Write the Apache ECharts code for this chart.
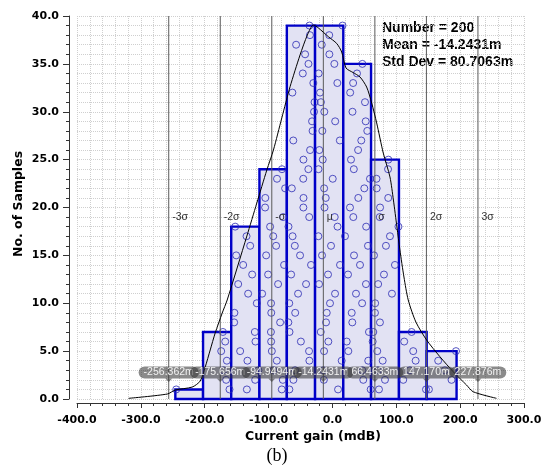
<!DOCTYPE html>
<html><head><meta charset="utf-8">
<script src="https://cdn.jsdelivr.net/npm/echarts@6/dist/echarts.min.js"></script>
<style>html,body{margin:0;padding:0;background:#fff}#c{width:551px;height:466px}</style>
</head><body><div id="c"></div>
<script>
// ---- data ----
const binEdges = [-246.0, -202.6, -158.5, -114.3, -71.4, -27.2, 17.0, 60.5, 104.2, 147.6, 194.4];
const binCounts = [1, 7, 18, 24, 39, 39, 35, 25, 7, 5];
// sample values of each bin, in the order they are stacked (level 1..n)
const bin1Samples = [-244.6];
const bin2Samples = [-161.2, -166.4, -170.6, -165.3, -174.2, -167.9, -171.5];
const bin3Samples = [-134.0, -121.0, -115.9, -133.1, -144.5, -120.5, -121.5, -153.9, -153.5, -118.4, -132.0, -147.6, -125.7, -139.8, -150.7, -128.8, -134.5, -152.3];
const bin4Samples = [-79.3, -77.7, -92.4, -87.1, -94.9, -96.0, -96.3, -81.9, -95.8, -96.1, -110.1, -85.1, -100.7, -75.7, -103.8, -88.2, -92.7, -97.6, -77.2, -105.4, -105.1, -74.1, -86.8, -79.0];
const bin5Samples = [-67.4, -61.1, -58.5, -36.1, -36.6, -49.4, -67.2, -69.0, -58.3, -67.6, -53.8, -41.3, -64.7, -33.5, -50.7, -58.9, -62.4, -68.8, -36.3, -45.5, -45.3, -63.6, -45.7, -37.7, -45.4, -35.0, -61.3, -31.1, -31.9, -28.8, -28.0, -62.7, -29.9, -46.4, -37.5, -42.8, -56.9, -35.2, -36.0];
const bin6Samples = [8.8, -13.4, -14.2, 14.5, -13.1, -6.4, -18.3, -10.0, -8.9, -3.8, 4.1, -21.0, -6.9, 11.9, -16.3, -2.2, -22.0, 8.0, 3.6, -12.4, -10.5, -13.0, 0.5, -21.8, -15.2, -20.5, 11.6, -15.8, 4.3, -12.7, -18.0, -19.4, 7.7, -21.5, 3.0, -4.8, -16.7, -5.0, 15.8];
const bin7Samples = [59.9, 48.3, 46.8, 56.1, 24.9, 22.4, 57.2, 31.1, 30.2, 46.5, 36.9, 52.5, 24.4, 43.2, 33.8, 55.7, 19.7, 52.8, 32.7, 27.5, 40.5, 49.9, 58.8, 33.5, 29.1, 40.2, 45.2, 54.6, 52.1, 31.4, 51.0, 27.8, 32.4, 38.5, 46.9];
const bin8Samples = [72.9, 82.3, 71.3, 78.7, 70.2, 63.0, 64.0, 74.4, 66.6, 66.9, 93.2, 71.6, 80.7, 97.9, 65.1, 83.8, 90.1, 103.4, 74.1, 74.6, 87.4, 69.3, 69.0, 87.1, 87.6];
const bin9Samples = [146.5, 110.9, 121.3, 130.3, 126.5, 112.4, 124.0];
const bin10Samples = [151.1, 186.5, 176.1, 165.6, 193.5];
const binSamples = [bin1Samples, bin2Samples, bin3Samples, bin4Samples, bin5Samples, bin6Samples, bin7Samples, bin8Samples, bin9Samples, bin10Samples];

const curveX = [-319.2, -258.6, -246.1, -219.5, -207.0, -199.2, -191.4, -183.6, -172.6, -164.8, -134.0, -118.4, -102.7, -92.4, -79.3, -66.3, -50.7, -39.2, -29.9, -22.0, -6.4, 6.7, 14.5, 21.3, 32.2, 43.2, 53.6, 61.5, 69.3, 79.6, 90.1, 95.5, 101.0, 105.7, 112.0, 118.7, 130.7, 147.5, 168.3, 189.1, 210.0, 220.3, 256.9];
const curveY = [0.07, 0.52, 0.94, 1.25, 1.88, 3.34, 5.12, 6.89, 8.98, 10.34, 17.02, 20.47, 23.92, 26.0, 29.35, 32.62, 35.93, 38.02, 39.06, 38.75, 37.84, 37.13, 36.24, 34.57, 34.1, 33.63, 32.58, 30.91, 28.83, 25.69, 23.19, 20.78, 17.96, 15.56, 12.74, 10.34, 8.04, 6.16, 4.42, 2.85, 1.46, 0.76, 0.07];

const sigmaValues = [-256.362, -175.656, -94.9494, -14.2431, 66.4633, 147.170, 227.876];
const sigmaNames = ['-3σ', '-2σ', '-σ', 'μ', 'σ', '2σ', '3σ'];
const sigmaTexts = ['-256.362m', '-175.656m', '-94.9494m', '-14.2431m', '66.4633m', '147.170m', '227.876m'];
const statLines = ['Number = 200', 'Mean = -14.2431m', 'Std Dev = 80.7063m'];
const xTitle = 'Current gain (mdB)';
const yTitle = 'No. of Samples';
const caption = '(b)';

// ---- chart ----
const chart = echarts.init(document.getElementById('c'), null, {renderer: 'canvas'});
const axisFont = {fontFamily: 'DejaVu Sans', fontWeight: 'bold', fontSize: 11, color: '#000'};
const grid = '#cfcfcf';

const option = {
  animation: false,
  backgroundColor: '#fff',
  grid: {left: 77, right: 27, top: 16, bottom: 67, containLabel: false},
  xAxis: {
    type: 'value', min: -400, max: 300, interval: 100, offset: 4,
    axisLine: {show: true, onZero: false, lineStyle: {color: '#333', width: 1}},
    axisTick: {show: true, length: 5, lineStyle: {color: '#333'}},
    minorTick: {show: true, splitNumber: 5, length: 3, lineStyle: {color: '#333'}},
    splitLine: {show: true, lineStyle: {color: grid, type: 'dotted'}},
    minorSplitLine: {show: true, lineStyle: {color: grid, type: 'dotted'}},
    axisLabel: Object.assign({margin: 12, showMinLabel: true, showMaxLabel: true, formatter: v => v.toFixed(1)}, axisFont)
  },
  yAxis: {
    type: 'value', min: 0, max: 40, interval: 5, offset: 8,
    axisLine: {show: true, onZero: false, lineStyle: {color: '#333', width: 1}},
    axisTick: {show: true, length: 6, lineStyle: {color: '#333'}},
    minorTick: {show: true, splitNumber: 5, length: 3, lineStyle: {color: '#333'}},
    splitLine: {show: true, lineStyle: {color: grid, type: 'dotted'}},
    minorSplitLine: {show: true, lineStyle: {color: grid, type: 'dotted'}},
    axisLabel: Object.assign({margin: 10, showMinLabel: true, showMaxLabel: true, formatter: v => v.toFixed(1)}, axisFont)
  },
  graphic: [
    {type: 'text', x: 382, y: 21, style: {text: statLines[0], font: 'bold 14px "Liberation Sans"', fill: '#000'}},
    {type: 'text', x: 382, y: 38, style: {text: statLines[1], font: 'bold 14px "Liberation Sans"', fill: '#000'}},
    {type: 'text', x: 382, y: 55, style: {text: statLines[2], font: 'bold 14px "Liberation Sans"', fill: '#000'}},
    {type: 'text', x: 313, y: 437, style: {text: xTitle, font: 'bold 12.5px "DejaVu Sans"', fill: '#000', align: 'center', verticalAlign: 'middle'}},
    {type: 'text', x: 19, y: 204, rotation: Math.PI / 2, style: {text: yTitle, font: 'bold 12.5px "DejaVu Sans"', fill: '#000', align: 'center', verticalAlign: 'middle'}},
    {type: 'text', x: 277, y: 456, style: {text: caption, font: '18px "Liberation Serif"', fill: '#000', align: 'center', verticalAlign: 'middle'}}
  ],
  series: [
    {
      type: 'custom', z: 2,
      data: binCounts.map((c, i) => [binEdges[i], binEdges[i + 1], c]),
      encode: {x: [0, 1], y: 2},
      renderItem: (params, api) => {
        const p0 = api.coord([api.value(0), api.value(2)]);
        const p1 = api.coord([api.value(1), 0]);
        return {type: 'rect', shape: {x: p0[0], y: p0[1], width: p1[0] - p0[0], height: p1[1] - p0[1]},
          style: {fill: '#e2e2f3', stroke: '#0000c8', lineWidth: 2.4}};
      }
    },
    {
      type: 'scatter', z: 3, symbol: 'circle', symbolSize: 7,
      itemStyle: {color: 'rgba(0,0,0,0)', borderColor: '#2a2ab4', borderWidth: 1},
      data: binSamples.flatMap(arr => arr.map((x, i) => [x, i + 1]))
    },
    {
      type: 'custom', z: 4,
      data: sigmaValues.map(v => [v]),
      encode: {x: 0},
      renderItem: (params, api) => {
        const a = api.coord([api.value(0), 0]);
        const b = api.coord([api.value(0), 40]);
        return {type: 'line', shape: {x1: a[0], y1: a[1], x2: b[0], y2: b[1]}, style: {stroke: '#5a5a5a', lineWidth: 1}};
      }
    },
    {
      type: 'line', z: 5, showSymbol: false, smooth: 0.25,
      lineStyle: {color: '#000', width: 1},
      data: curveX.map((x, i) => [x, curveY[i]])
    },
    {
      type: 'custom', z: 5,
      data: sigmaValues.map((v, i) => [v, i]),
      encode: {x: 0},
      renderItem: (params, api) => {
        const p = api.coord([api.value(0), 19.04]);
        return {type: 'text', x: p[0] + 3.5, y: p[1], style: {text: sigmaNames[api.value(1)], fill: '#333', font: '10.5px "Liberation Sans"', align: 'left', verticalAlign: 'middle'}};
      }
    },
    {
      type: 'custom', z: 6,
      data: sigmaValues.map((v, i) => [v, i]),
      encode: {x: 0},
      renderItem: (params, api) => {
        const p = api.coord([api.value(0), 2.77]);
        const bg = 'rgba(51,51,51,0.57)';
        return {type: 'group', children: [
          {type: 'polygon', shape: {points: [[p[0] - 3.5, p[1] + 6], [p[0] + 3.5, p[1] + 6], [p[0], p[1] + 9.5]]}, style: {fill: bg}},
          {type: 'text', x: p[0], y: p[1], style: {text: sigmaTexts[api.value(1)], fill: '#f2f2f2', font: '10.5px "Liberation Sans"', align: 'center', verticalAlign: 'middle', backgroundColor: bg, padding: [1, 5, 1, 5], borderRadius: 6, lineHeight: 10}}
        ]};
      }
    }
  ]
};
chart.setOption(option);
</script>
</body></html>
